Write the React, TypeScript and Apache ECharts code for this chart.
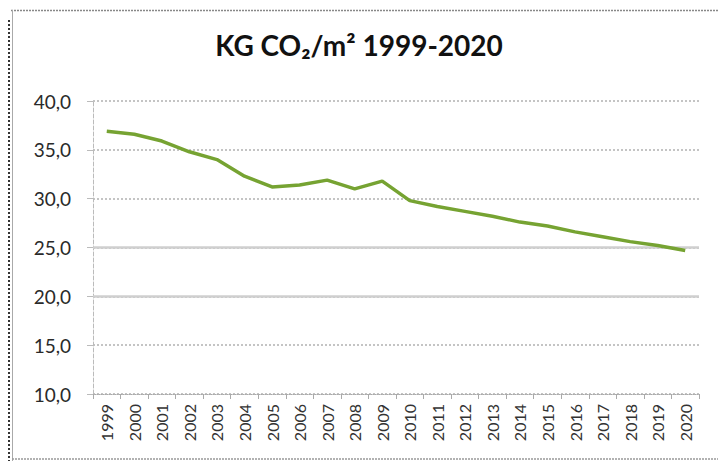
import React, { useEffect, useRef } from "react";
import * as echarts from "echarts";

const years = ["1999","2000","2001","2002","2003","2004","2005","2006","2007","2008","2009","2010","2011","2012","2013","2014","2015","2016","2017","2018","2019","2020"];
const values = [36.9, 36.6, 35.9, 34.8, 34.0, 32.3, 31.2, 31.4, 31.9, 31.0, 31.8, 29.8, 29.2, 28.7, 28.2, 27.6, 27.2, 26.6, 26.1, 25.6, 25.2, 24.7];
const solidGridValues = [25, 20];

export default function App() {
  const ref = useRef<HTMLDivElement>(null);
  useEffect(() => {
    if (!ref.current) return;
    const chart = echarts.init(ref.current, null, { renderer: "svg" });
    chart.setOption({
      animation: false,
      backgroundColor: "#ffffff",
      title: {
        text: "KG CO₂/m² 1999-2020",
        left: "center",
        top: 31,
        textStyle: { fontFamily: "Lato", fontWeight: "bold", fontSize: 28, color: "#111" },
        padding: 0,
      },
      grid: { left: 93, right: 19, top: 101, bottom: 67 },
      xAxis: {
        type: "category",
        data: years,
        boundaryGap: true,
        axisLine: { lineStyle: { color: "#aaa", type: "dotted", width: 1 } },
        axisTick: { show: true, length: 5, lineStyle: { color: "#aaa" } },
        axisLabel: { rotate: 90, fontFamily: "Lato", fontSize: 16, color: "#333", margin: 10 },
      },
      yAxis: {
        type: "value",
        min: 10,
        max: 40,
        interval: 5,
        axisLine: { show: true, lineStyle: { color: "#bbb", type: "dashed", width: 1 } },
        axisTick: { show: true, length: 6, lineStyle: { color: "#bbb" } },
        axisLabel: {
          fontFamily: "Lato",
          fontSize: 19,
          color: "#2a2a2a",
          margin: 22,
          formatter: (v: number) => v.toFixed(1).replace(".", ","),
        },
        splitLine: { lineStyle: { color: "#c4c4c4", type: "dotted", width: 2 } },
      },
      series: [
        {
          type: "line",
          data: values,
          symbol: "none",
          lineStyle: { color: "#76a332", width: 3.5 },
          markLine: {
            silent: true,
            symbol: "none",
            label: { show: false },
            lineStyle: { color: "#cfcfcf", type: "solid", width: 2.5 },
            data: solidGridValues.map((v) => ({ yAxis: v })),
            z: 1,
          },
        },
      ],
      graphic: [
        { type: "line", shape: { x1: 11, y1: 10.5, x2: 718, y2: 10.5 }, style: { stroke: "#888", lineWidth: 1.5, lineDash: [2, 1] } },
        { type: "line", shape: { x1: 12.5, y1: 10, x2: 12.5, y2: 461 }, style: { stroke: "#aaa", lineWidth: 1 } },
        { type: "line", shape: { x1: 9, y1: 20, x2: 9, y2: 461 }, style: { stroke: "#333", lineWidth: 2, lineDash: [2, 2] } },
        { type: "line", shape: { x1: 12, y1: 459, x2: 718, y2: 459 }, style: { stroke: "#999", lineWidth: 1.5, lineDash: [2, 1] } },
      ],
    });
    return () => chart.dispose();
  }, []);
  return <div ref={ref} style={{ position: "fixed", left: 0, top: 0, width: 718, height: 461 }} />;
}
